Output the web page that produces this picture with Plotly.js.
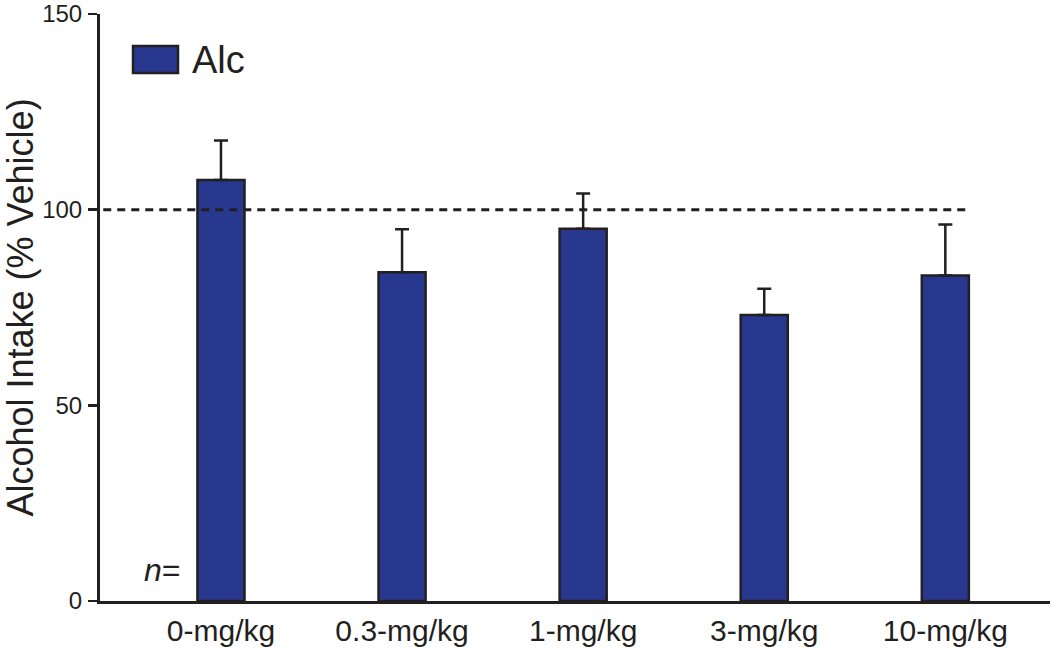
<!DOCTYPE html>
<html>
<head>
<meta charset="utf-8">
<script src="https://cdn.plot.ly/plotly-3.0.1.min.js"></script>
<style>
  html, body { margin: 0; padding: 0; background: #fff; }
  #chart { width: 1050px; height: 650px; }
</style>
</head>
<body>
<div id="chart"></div>
<script>
// ---- data ----
const categories = ["0-mg/kg", "0.3-mg/kg", "1-mg/kg", "3-mg/kg", "10-mg/kg"];
const seriesName = "Alc";
const alcValues = [107.6, 84.0, 95.1, 73.1, 83.2];
const alcErrors = [10.1, 11.0, 9.0, 6.7, 13.0];
const referenceLevel = 100;
const yTickValues = [0, 50, 100, 150];
const yTitle = "Alcohol Intake (% Vehicle)";
const nLabel = "<i>n</i>=";

// ---- styles ----
const ink = "#231f20";
const barBlue = "#29388f";
const font = "Liberation Sans, Arial, sans-serif";

const trace = {
  type: "bar",
  x: categories,
  y: alcValues,
  name: seriesName,
  width: 0.26,
  marker: { color: barBlue, line: { color: ink, width: 2.5 } },
  error_y: { type: "data", array: alcErrors, symmetric: false, arrayminus: alcErrors.map(() => 0),
             color: ink, thickness: 2.5, width: 7 },
  showlegend: false,
  hoverinfo: "skip"
};

const layout = {
  width: 1050, height: 650,
  margin: { l: 100, r: 0, t: 14, b: 49 },
  paper_bgcolor: "#fff", plot_bgcolor: "#fff",
  font: { family: font, color: ink },
  xaxis: {
    type: "category",
    range: [-0.668, 4.578],
    showgrid: false, zeroline: false,
    showline: true, linecolor: ink, linewidth: 3,
    ticks: "", ticklabelstandoff: 1,
    ticklabeloverflow: "allow",
    tickfont: { size: 30, family: font, color: ink }
  },
  yaxis: {
    range: [0, 150],
    tickvals: yTickValues,
    ticktext: yTickValues.map(String),
    showgrid: false, zeroline: false,
    showline: true, linecolor: ink, linewidth: 3,
    ticks: "outside", ticklen: 9, tickwidth: 2.5, tickcolor: ink,
    ticklabelstandoff: 1,
    ticklabeloverflow: "allow",
    tickfont: { size: 24, family: font, color: ink },
    title: { text: yTitle, font: { size: 36, family: font, color: ink }, standoff: 10 }
  },
  shapes: [
    { type: "line", xref: "x", yref: "y", x0: -0.65, x1: 4.13, y0: referenceLevel, y1: referenceLevel,
      line: { color: ink, width: 3, dash: "8px,6px" } },
    { type: "rect", xref: "paper", yref: "paper",
      x0: (133 - 100) / 950, x1: (178 - 100) / 950,
      y0: (601 - 73) / 587, y1: (601 - 46) / 587,
      fillcolor: barBlue, line: { color: ink, width: 2.5 } }
  ],
  annotations: [
    { xref: "paper", yref: "paper", x: (190 - 100) / 950, y: (601 - 60) / 587,
      xanchor: "left", yanchor: "middle", showarrow: false,
      text: seriesName, font: { size: 38, family: font, color: ink } },
    { xref: "paper", yref: "y", x: (182 - 100) / 950, y: 8,
      xanchor: "right", yanchor: "middle", showarrow: false,
      text: nLabel, font: { size: 32, family: font, color: ink } }
  ]
};

Plotly.newPlot("chart", [trace], layout, { staticPlot: true, displayModeBar: false });
</script>
</body>
</html>
